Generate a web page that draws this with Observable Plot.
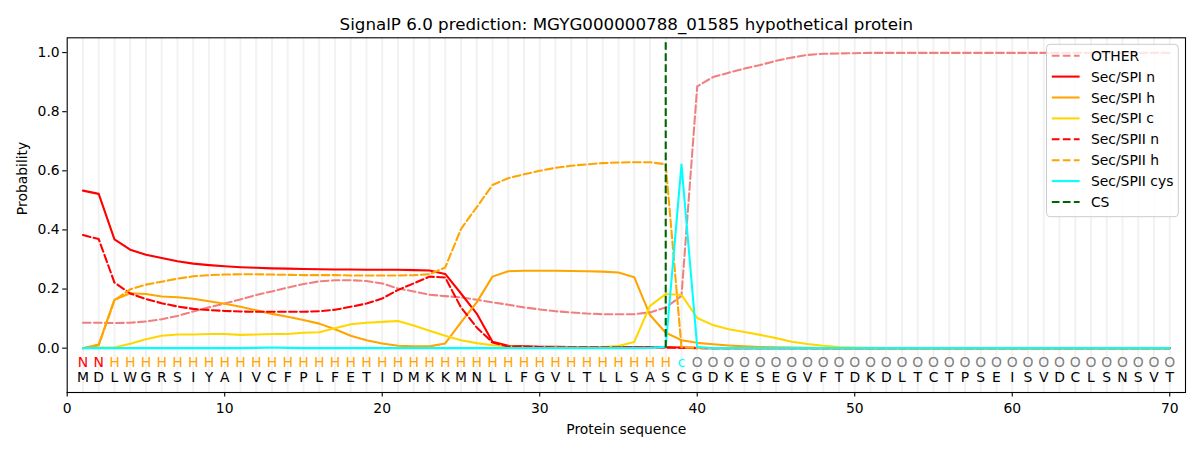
<!DOCTYPE html>
<html>
<head>
<meta charset="utf-8">
<script src="https://cdn.jsdelivr.net/npm/d3@7"></script>
<script src="https://cdn.jsdelivr.net/npm/@observablehq/plot@0.6"></script>
<style>
  html, body { margin: 0; padding: 0; background: #fff; }
  #wrap { position: relative; width: 1200px; height: 450px; font-family: "DejaVu Sans", sans-serif; }
  #legend { position: absolute; left: 0; top: 0; pointer-events: none; }
</style>
</head>
<body>
<div id="wrap"></div>
<script>
// ---- data ----
const title = "SignalP 6.0 prediction: MGYG000000788_01585 hypothetical protein";
const residues = "MDLWGRSIYAIVCFPLFETIDMKKMNLLFGVLTLLSASCGDKESEGVFTDKDLTCTPSEISVDCLSNSVT".split("");
const regionLabels = ["N","N",
  "H","H","H","H","H","H","H","H","H","H","H","H","H","H","H","H","H","H","H","H","H","H","H","H","H","H","H","H","H","H","H","H","H","H","H","H",
  "c",
  "O","O","O","O","O","O","O","O","O","O","O","O","O","O","O","O","O","O","O","O","O","O","O","O","O","O","O","O","O","O","O"];
const xTicks = [0, 10, 20, 30, 40, 50, 60, 70];
const yTicks = [0, 0.2, 0.4, 0.6, 0.8, 1.0];
const csPosition = 38;

const other = [0.086,0.086,0.085,0.086,0.090,0.098,0.109,0.124,0.138,0.151,
  0.165,0.180,0.192,0.205,0.217,0.226,0.230,0.230,0.227,0.219,
  0.202,0.192,0.181,0.176,0.172,0.164,0.155,0.147,0.138,0.131,
  0.125,0.121,0.117,0.115,0.115,0.115,0.121,0.138,0.177,0.886,
  0.917,0.932,0.946,0.958,0.972,0.983,0.992,0.996,0.997,0.998,
  0.999,0.999,0.999,0.999,0.999,0.999,0.999,0.999,0.999,0.999,
  0.999,0.999,0.999,0.999,0.999,0.999,0.999,0.999,0.999,0.999];
const spiN = [0.533,0.522,0.368,0.333,0.316,0.305,0.294,0.286,0.281,0.277,
  0.274,0.272,0.270,0.269,0.268,0.267,0.266,0.266,0.265,0.265,
  0.265,0.264,0.263,0.251,0.185,0.117,0.022,0.008,0.006,0.005,
  0.005,0.004,0.004,0.003,0.003,0.003,0.003,0.003,0.002,0.001,
  0,0,0,0,0,0,0,0,0,0, 0,0,0,0,0,0,0,0,0,0, 0,0,0,0,0,0,0,0,0,0];
const spiH = [0.000,0.012,0.164,0.186,0.183,0.175,0.172,0.167,0.159,0.150,
  0.140,0.128,0.116,0.106,0.095,0.083,0.064,0.042,0.027,0.016,
  0.008,0.006,0.006,0.016,0.087,0.155,0.242,0.260,0.262,0.262,
  0.262,0.261,0.260,0.259,0.256,0.240,0.112,0.052,0.027,0.018,
  0.013,0.009,0.006,0.004,0.003,0.002,0.001,0,0,0,
  0,0,0,0,0,0,0,0,0,0, 0,0,0,0,0,0,0,0,0,0];
const spiC = [0.000,0.002,0.002,0.015,0.030,0.042,0.046,0.046,0.048,0.048,
  0.045,0.046,0.048,0.048,0.052,0.054,0.067,0.081,0.086,0.089,
  0.092,0.077,0.059,0.042,0.027,0.017,0.010,0.006,0.004,0.003,
  0.003,0.003,0.003,0.004,0.007,0.021,0.143,0.183,0.180,0.102,
  0.078,0.064,0.055,0.045,0.034,0.022,0.014,0.008,0.004,0.002,
  0.001,0,0,0,0,0,0,0,0,0, 0,0,0,0,0,0,0,0,0,0];
const spiiN = [0.383,0.369,0.222,0.185,0.166,0.152,0.141,0.133,0.129,0.126,
  0.124,0.123,0.123,0.123,0.123,0.125,0.130,0.140,0.151,0.168,
  0.197,0.219,0.242,0.239,0.138,0.070,0.019,0.006,0.005,0.004,
  0.003,0.003,0.003,0.003,0.003,0.003,0.003,0.002,0.001,0,
  0,0,0,0,0,0,0,0,0,0, 0,0,0,0,0,0,0,0,0,0, 0,0,0,0,0,0,0,0,0,0];
const spiiH = [0.000,0.010,0.162,0.199,0.215,0.225,0.235,0.243,0.247,0.249,
  0.250,0.250,0.249,0.248,0.247,0.247,0.247,0.246,0.246,0.246,
  0.246,0.247,0.250,0.273,0.403,0.477,0.552,0.575,0.588,0.600,
  0.610,0.617,0.622,0.626,0.628,0.629,0.629,0.622,0.003,0.001,
  0,0,0,0,0,0,0,0,0,0, 0,0,0,0,0,0,0,0,0,0, 0,0,0,0,0,0,0,0,0,0];
const spiiCys = [0,0,0,0,0,0,0,0,0,0,
  0,0.001,0.002,0.001,0,0,0,0,0,0,
  0,0,0,0,0,0,0,0,0,0,
  0,0,0,0,0,0,0.001,0.005,0.621,0.004,
  0,0,0,0,0,0,0,0,0,0, 0,0,0,0,0,0,0,0,0,0, 0,0,0,0,0,0,0,0,0,0];

const seriesNames = ["OTHER","Sec/SPI n","Sec/SPI h","Sec/SPI c","Sec/SPII n","Sec/SPII h","Sec/SPII cys"];
const seriesValues = [other, spiN, spiH, spiC, spiiN, spiiH, spiiCys];
const seriesColors = ["#f08080","#ff0000","#ffa500","#ffd700","#ff0000","#ffa500","#00ffff"];
const seriesDashed = [true,false,false,false,true,true,false];
const labelColors = {N: "#ff0000", H: "#ffa500", c: "#00ffff", O: "#808080"};

// ---- build tables ----
const positions = residues.map((_, i) => i + 1);
const residueRows = residues.map((r, i) => ({pos: i + 1, residue: r, label: regionLabels[i]}));
const LW = 2.08;
const DASH = "7.7,3.33";
const FS = 13.9;

const lineMarks = seriesNames.map((name, k) =>
  Plot.line(positions.map((p, i) => ({pos: p, prob: seriesValues[k][i]})), {
    x: "pos", y: "prob",
    stroke: seriesColors[k],
    strokeWidth: LW,
    strokeDasharray: seriesDashed[k] ? DASH : null
  })
);

const chart = Plot.plot({
  width: 1200,
  height: 450,
  marginLeft: 66.7,
  marginRight: 15,
  marginTop: 37.3,
  marginBottom: 58,
  style: {fontFamily: "DejaVu Sans", fontSize: FS + "px", background: "white", color: "black"},
  x: {domain: [0, 71]},
  y: {domain: [-0.15, 1.05]},
  marks: [
    Plot.ruleX(positions, {x: d => d, stroke: "#f2f2f2", strokeWidth: 2}),
    ...lineMarks,
    Plot.ruleX([csPosition], {x: d => d, y1: 0, y2: 1.035, stroke: "#006400", strokeWidth: LW, strokeDasharray: DASH}),
    Plot.text(residueRows, {x: "pos", y: -0.05, text: "label", fill: d => labelColors[d.label], fontSize: FS, lineAnchor: "middle"}),
    Plot.text(residueRows, {x: "pos", y: -0.1, text: "residue", fill: "black", fontSize: FS, lineAnchor: "middle"}),
    Plot.frame({stroke: "black", strokeWidth: 1.1}),
    Plot.axisX({ticks: xTicks, tickSize: 4.5, tickPadding: 6, fontSize: FS, label: null, strokeWidth: 1.1}),
    Plot.axisY({ticks: yTicks, tickSize: 4.5, tickPadding: 3, fontSize: FS, tickFormat: ".1f", label: null, strokeWidth: 1.1}),
    Plot.text([title], {frameAnchor: "top", dy: -8.3, lineAnchor: "bottom", fontSize: 16.7, fill: "black"}),
    Plot.text(["Protein sequence"], {frameAnchor: "bottom", dy: 41, lineAnchor: "bottom", fontSize: FS, fill: "black"}),
    Plot.text(["Probability"], {frameAnchor: "left", dx: -40.2, rotate: -90, lineAnchor: "bottom", fontSize: FS, fill: "black"})
  ]
});

const wrap = document.getElementById("wrap");
wrap.appendChild(chart);

// ---- legend overlay (upper right, inside the axes) ----
const legendNames = [...seriesNames, "CS"];
const legendColors = [...seriesColors, "#006400"];
const legendDashed = [...seriesDashed, true];

const lg = d3.select(wrap).append("svg")
  .attr("id", "legend")
  .attr("width", 1200).attr("height", 450)
  .style("font-family", "DejaVu Sans")
  .style("font-size", FS + "px");

lg.append("rect")
  .attr("x", 1046.5).attr("y", 44.3)
  .attr("width", 131.8).attr("height", 172.4)
  .attr("rx", 3.5).attr("ry", 3.5)
  .attr("fill", "white").attr("fill-opacity", 0.8)
  .attr("stroke", "#cccccc").attr("stroke-width", 1);

const rows = lg.selectAll("g.row").data(legendNames).join("g")
  .attr("class", "row")
  .attr("transform", (d, i) => `translate(0, ${55.7 + i * 20.9})`);

rows.append("line")
  .attr("x1", 1051.8).attr("x2", 1079.6)
  .attr("y1", 0).attr("y2", 0)
  .attr("stroke", (d, i) => legendColors[i])
  .attr("stroke-width", LW)
  .attr("stroke-dasharray", (d, i) => legendDashed[i] ? DASH : null);

rows.append("text")
  .attr("x", 1090.9).attr("y", 0).attr("dy", "0.36em")
  .attr("fill", "black")
  .text(d => d);
</script>
</body>
</html>
